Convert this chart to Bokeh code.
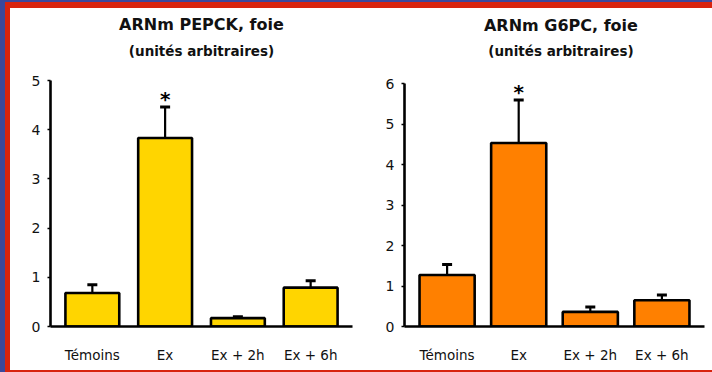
from bokeh.plotting import figure
from bokeh.models import FactorRange, ColumnDataSource, Whisker, TeeHead, Range1d, FixedTicker, Spacer
from bokeh.layouts import row, column
from bokeh.embed import file_html
from bokeh.resources import INLINE
from bokeh.core.properties import value

categories = ["Témoins", "Ex", "Ex + 2h", "Ex + 6h"]

pepck_title = "ARNm PEPCK, foie"
pepck_mean = [0.68, 3.83, 0.17, 0.79]
pepck_err = [0.17, 0.63, 0.03, 0.14]
pepck_sig = ["", "*", "", ""]
pepck_yticks = [0, 1, 2, 3, 4, 5]

g6pc_title = "ARNm G6PC, foie"
g6pc_mean = [1.27, 4.53, 0.36, 0.65]
g6pc_err = [0.26, 1.06, 0.12, 0.13]
g6pc_sig = ["", "*", "", ""]
g6pc_yticks = [0, 1, 2, 3, 4, 5, 6]

subtitle = "(unités arbitraires)"

FONT = "DejaVu Sans"
BLUE = "#3b489c"
RED = "#d8230e"
FIG_H = 362


def panel(title, means, errs, sig, color, yticks, width, mb_left, mb_right,
          pad, bar_w, top_px, title_px, sub_px, title_dx):
    # top_px: pixel height (from figure top) of the highest tick; frame spans whole top
    ymax = yticks[-1]
    frame_h = FIG_H - 44
    ppu = (frame_h - top_px) / ymax
    ytop = frame_h / ppu
    p = figure(x_range=FactorRange(factors=categories, range_padding=pad,
                                   range_padding_units="absolute"),
               y_range=Range1d(0, ytop), title=None,
               width=width, height=FIG_H, output_backend="svg", toolbar_location=None,
               min_border_left=mb_left, min_border_right=mb_right,
               min_border_top=0, min_border_bottom=44)
    p.outline_line_color = None
    p.xgrid.visible = False
    p.ygrid.visible = False
    p.background_fill_color = "white"
    p.border_fill_color = "white"

    upper = [m + e for m, e in zip(means, errs)]
    src = ColumnDataSource(dict(cat=categories, mean=means, upper=upper, sig=sig))

    p.add_layout(Whisker(base="cat", lower="mean", upper="upper", source=src,
                         line_color="black", line_width=2.2, lower_head=None,
                         upper_head=TeeHead(size=10, line_width=3, line_color="black"),
                         level="underlay"))
    p.vbar(x="cat", top="mean", width=bar_w, source=src, fill_color=color,
           line_color="black", line_width=2.6)
    p.text(x="cat", y="upper", text="sig", source=src, text_align="center",
           text_baseline="alphabetic", y_offset=-8, text_font=value(FONT),
           text_font_style="bold", text_font_size="20px", text_color="black")

    tx = 2 + title_dx
    p.text(x=[tx], y=[(frame_h - title_px) / ppu], text=[title], text_align="center",
           text_baseline="middle", text_font=value(FONT), text_font_style="bold",
           text_font_size="16px", text_color="#111111")
    p.text(x=[tx], y=[(frame_h - sub_px) / ppu], text=[subtitle], text_align="center",
           text_baseline="middle", text_font=value(FONT), text_font_style="bold",
           text_font_size="13.5px", text_color="#111111")

    xa = p.xaxis[0]
    xa.axis_line_width = 2.6
    xa.axis_line_color = "black"
    xa.major_tick_line_color = None
    xa.minor_tick_line_color = None
    xa.major_label_standoff = 14
    xa.major_label_text_font = FONT
    xa.major_label_text_font_size = "13.5px"
    xa.major_label_text_color = "#111111"

    ya = p.yaxis[0]
    ya.ticker = FixedTicker(ticks=yticks)
    ya.bounds = (0, ymax)
    ya.axis_line_width = 2.6
    ya.axis_line_color = "black"
    ya.major_tick_in = 0
    ya.major_tick_out = 3
    ya.major_tick_line_width = 1.5
    ya.minor_tick_line_color = None
    ya.major_label_standoff = 7
    ya.major_label_text_font = FONT
    ya.major_label_text_font_size = "14px"
    ya.major_label_text_color = "#111111"
    return p


# page offsets: figures start at x=10, y=8
p1 = panel(pepck_title, pepck_mean, pepck_err, pepck_sig, "#FFD500", pepck_yticks,
           346, 40, 4, 0.075, 0.74, 72, 16, 42, 0.0)
p2 = panel(g6pc_title, g6pc_mean, g6pc_err, g6pc_sig, "#FF8000", g6pc_yticks,
           356, 48, 8, 0.095, 0.77, 75, 16.5, 42, 0.09)

content = row(Spacer(width=5, height=FIG_H, background=RED), p1, p2)
inner = column(Spacer(width=707, height=6, background=RED), content,
               Spacer(width=707, height=2, background=RED))
outer = column(Spacer(width=712, height=2, background=BLUE),
               row(Spacer(width=5, height=370, background=BLUE), inner))

open("out.html", "w").write(file_html(outer, INLINE))
